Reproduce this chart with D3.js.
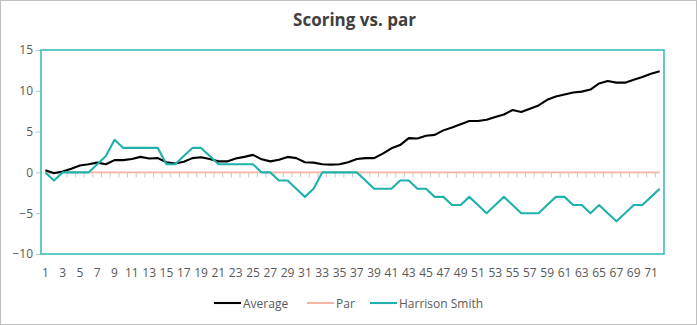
<!DOCTYPE html>
<html>
<head>
<meta charset="utf-8">
<script src="https://cdn.jsdelivr.net/npm/d3@7"></script>
<style>
  html, body { margin: 0; padding: 0; background: #fff; }
  svg { display: block; }
  text { font-family: "Open Sans", "Noto Sans", sans-serif; }
</style>
</head>
<body>
<svg id="chart" width="697" height="325"></svg>
<script>
const categories = d3.range(1, 73);
const average = [0.25,-0.1,0.1,0.45,0.85,1.0,1.2,1.0,1.5,1.5,1.65,1.9,1.7,1.75,1.25,1.1,1.3,1.75,1.85,1.65,1.35,1.35,1.7,1.9,2.15,1.6,1.35,1.55,1.9,1.75,1.25,1.2,1.0,0.95,1.0,1.25,1.65,1.75,1.75,2.3,2.95,3.35,4.2,4.15,4.5,4.6,5.15,5.5,5.9,6.3,6.3,6.45,6.8,7.1,7.65,7.4,7.8,8.2,8.9,9.3,9.55,9.8,9.9,10.15,10.9,11.2,11.0,11.0,11.35,11.7,12.1,12.4];
const par = categories.map(() => 0);
const harrison = [0,-1,0,0,0,0,1,2,4,3,3,3,3,3,1,1,2,3,3,2,1,1,1,1,1,0,0,-1,-1,-2,-3,-2,0,0,0,0,0,-1,-2,-2,-2,-1,-1,-2,-2,-3,-3,-4,-4,-3,-4,-5,-4,-3,-4,-5,-5,-5,-4,-3,-3,-4,-4,-5,-4,-5,-6,-5,-4,-4,-3,-2];
const yTicks = [-10,-5,0,5,10,15];
const seriesNames = ["Average", "Par", "Harrison Smith"];
const seriesColors = ["#000000", "#f4b4a4", "#1fb2ab"];

const svg = d3.select("#chart");
const W = 697, H = 325;
const L = 41, R = 664, T = 50, B = 254;

svg.append("rect").attr("x", 0.5).attr("y", 0.5).attr("width", W - 1).attr("height", H - 1)
  .attr("fill", "#fff").attr("stroke", "#bfbfbf").attr("stroke-width", 1);

svg.append("text").attr("x", (L + R) / 2 + 2).attr("y", 26).attr("text-anchor", "middle")
  .attr("font-size", 17).attr("font-weight", "bold").attr("fill", "#404040").text("Scoring vs. par");

const x = d3.scaleBand().domain(categories).range([L, R]).padding(0);
const y = d3.scaleLinear().domain([-10, 15]).range([B, T]);
const cx = d => x(d) + x.bandwidth() / 2;

// Y axis ticks and labels
const yAxis = d3.axisLeft(y).tickValues(yTicks).tickSize(5).tickPadding(3).tickFormat(d3.format("d"));
const ya = svg.append("g").attr("transform", `translate(${L},0)`).call(yAxis);
ya.select(".domain").remove();
ya.selectAll(".tick line").attr("stroke", "#bfbfbf");
ya.selectAll(".tick text").attr("fill", "#595959").attr("font-size", 12)
  .style("font-family", '"Open Sans", "Noto Sans", sans-serif');

// X axis at zero: tick marks at category boundaries
const boundaries = categories.slice(1).map(c => x(c));
svg.append("g").selectAll("line").data(boundaries).join("line")
  .attr("x1", d => d).attr("x2", d => d)
  .attr("y1", y(0)).attr("y2", y(0) + 5)
  .attr("stroke", "#c8c8c8").attr("stroke-width", 1);

// X labels at bottom
svg.append("g").selectAll("text").data(categories.filter(c => c % 2 === 1)).join("text")
  .attr("x", d => cx(d)).attr("y", 277).attr("text-anchor", "middle")
  .attr("font-size", 12).attr("fill", "#595959").text(d => d);

// Lines
const line = d3.line().x((d, i) => cx(categories[i])).y(d => y(d));
const data = [average, par, harrison];
// draw par first, then average, then harrison
[1, 0, 2].forEach(k => {
  svg.append("path").datum(data[k]).attr("d", line).attr("fill", "none")
    .attr("stroke", seriesColors[k]).attr("stroke-width", k === 1 ? 1.75 : 2.1)
    .attr("stroke-linejoin", "round");
});

// Plot border (teal)
svg.append("rect").attr("x", L).attr("y", T).attr("width", R - L).attr("height", B - T)
  .attr("fill", "none").attr("stroke", "#3dbdb7").attr("stroke-width", 1.6);

// Legend
const legendX = [214, 307, 370];
const lg = svg.append("g");
seriesNames.forEach((n, i) => {
  lg.append("line").attr("x1", legendX[i]).attr("x2", legendX[i] + 27)
    .attr("y1", 303).attr("y2", 303).attr("stroke", seriesColors[i]).attr("stroke-width", 2.1);
  lg.append("text").attr("x", legendX[i] + 29).attr("y", 307.5).attr("font-size", 12)
    .attr("fill", "#595959").text(n);
});
</script>
</body>
</html>
